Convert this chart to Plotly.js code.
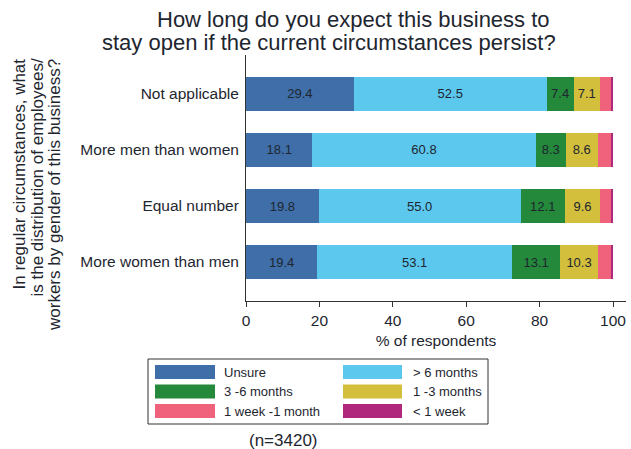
<!DOCTYPE html>
<html>
<head>
<meta charset="utf-8">
<script src="https://cdn.plot.ly/plotly-3.0.1.min.js"></script>
<style>
  html, body { margin: 0; padding: 0; background: #fff; }
  #chart { width: 631px; height: 449px; }
</style>
</head>
<body>
<div id="chart"></div>
<script>
// ---- data ----
const categories = ["Not applicable", "More men than women", "Equal number", "More women than men"];
const seriesNames = ["Unsure", "> 6 months", "3 -6 months", "1 -3 months", "1 week -1 month", "< 1 week"];
const unsure    = [29.4, 18.1, 19.8, 19.4];
const over6m    = [52.5, 60.8, 55.0, 53.1];
const m3to6     = [7.4, 8.3, 12.1, 13.1];
const m1to3     = [7.1, 8.6, 9.6, 10.3];
const w1to1m    = [3.0, 3.6, 2.9, 3.5];
const under1w   = [0.6, 0.6, 0.6, 0.6];
const xTickVals = [0, 20, 40, 60, 80, 100];
const titleLines = ["How long do you expect this business to\u00a0", "stay open if the current circumstances persist?"];
const yTitleLines = ["In regular circumstances, what", "is the distribution of employees/", "workers by gender of this business?"];
const xTitle = "% of respondents";
const noteText = "(n=3420)";

// ---- style ----
const seriesValues = [unsure, over6m, m3to6, m1to3, w1to1m, under1w];
const colors = ["#3f6ea8", "#5cc8ee", "#24893b", "#d3bf3b", "#f0627b", "#b0287c"];
const showLabel = [true, true, true, true, false, false];
const FONT = "Liberation Sans, Arial, sans-serif";
const TXT = "#1e2630";

// plot box in pixels
const L = 246, T = 55, W = 380, H = 246;
const px = x => (x - L) / W;
const py = y => (T + H - y) / H;

const traces = seriesNames.map((name, i) => ({
  type: "bar",
  orientation: "h",
  name: name,
  y: categories,
  x: seriesValues[i],
  marker: { color: colors[i], line: { width: 0 } },
  text: showLabel[i] ? seriesValues[i].map(v => v.toFixed(1)) : undefined,
  texttemplate: showLabel[i] ? "%{text}" : "",
  textposition: showLabel[i] ? "inside" : "none",
  insidetextanchor: "middle",
  constraintext: "none",
  textfont: { family: FONT, size: 13, color: TXT },
  hoverinfo: "x+name",
  showlegend: false
}));

const annotations = [];
const shapes = [];

// title lines (right-aligned)
const titleY = [19, 42];
titleLines.forEach((t, i) => {
  annotations.push({
    xref: "paper", yref: "paper", x: px(558), y: py(titleY[i]),
    xanchor: "right", yanchor: "middle", showarrow: false,
    text: t, font: { family: FONT, size: 22, color: TXT }
  });
});

// y axis title lines (rotated, ends aligned at top)
const yTitleX = [19, 36.5, 54];
yTitleLines.forEach((t, i) => {
  annotations.push({
    xref: "paper", yref: "paper", x: px(yTitleX[i]), y: py(57),
    xanchor: "center", yanchor: "top", showarrow: false, textangle: -90,
    text: t, font: { family: FONT, size: 17, color: TXT }
  });
});

// legend box (custom, wide swatches)
shapes.push({
  type: "rect", xref: "paper", yref: "paper",
  x0: px(148), x1: px(488), y0: py(359), y1: py(424),
  line: { color: "#333", width: 1 }, fillcolor: "rgba(0,0,0,0)"
});
const colSwatchX = [[155, 215], [343, 402]];
const colTextX = [222, 411];
const rowY = [372, 391.5, 411];
seriesNames.forEach((name, i) => {
  const c = i % 2, r = Math.floor(i / 2);
  shapes.push({
    type: "rect", xref: "paper", yref: "paper",
    x0: px(colSwatchX[c][0]), x1: px(colSwatchX[c][1]),
    y0: py(rowY[r] - 7), y1: py(rowY[r] + 7),
    line: { width: 0 }, fillcolor: colors[i]
  });
  annotations.push({
    xref: "paper", yref: "paper", x: px(colTextX[c]), y: py(rowY[r]),
    xanchor: "left", yanchor: "middle", showarrow: false,
    text: name, font: { family: FONT, size: 13, color: TXT }
  });
});

// note
annotations.push({
  xref: "paper", yref: "paper", x: px(283), y: py(440),
  xanchor: "center", yanchor: "middle", showarrow: false,
  text: noteText, font: { family: FONT, size: 17, color: TXT }
});

const layout = {
  width: 631, height: 449,
  margin: { l: L, r: 631 - L - W, t: T, b: 449 - T - H, pad: 0 },
  paper_bgcolor: "#fff", plot_bgcolor: "#fff",
  barmode: "stack",
  bargap: 0.393,
  showlegend: false,
  font: { family: FONT, size: 15.5, color: TXT },
  xaxis: {
    range: [0, W / 3.67],
    tickvals: xTickVals,
    ticks: "outside", ticklen: 5, tickcolor: "#333", tickwidth: 1,
    showline: true, linecolor: "#333", linewidth: 1,
    showgrid: false, zeroline: false,
    tickfont: { family: FONT, size: 15.5, color: TXT },
    title: { text: xTitle, font: { family: FONT, size: 15.5, color: TXT }, standoff: 7 }
  },
  yaxis: {
    type: "category",
    categoryorder: "array", categoryarray: categories,
    range: [3.696, -0.696],
    ticks: "", showline: true, linecolor: "#333", linewidth: 1,
    showgrid: false, zeroline: false,
    ticklabelstandoff: 3,
    tickfont: { family: FONT, size: 15.5, color: TXT }
  },
  annotations: annotations,
  shapes: shapes
};

Plotly.newPlot("chart", traces, layout, { displayModeBar: false, staticPlot: true });
</script>
</body>
</html>
